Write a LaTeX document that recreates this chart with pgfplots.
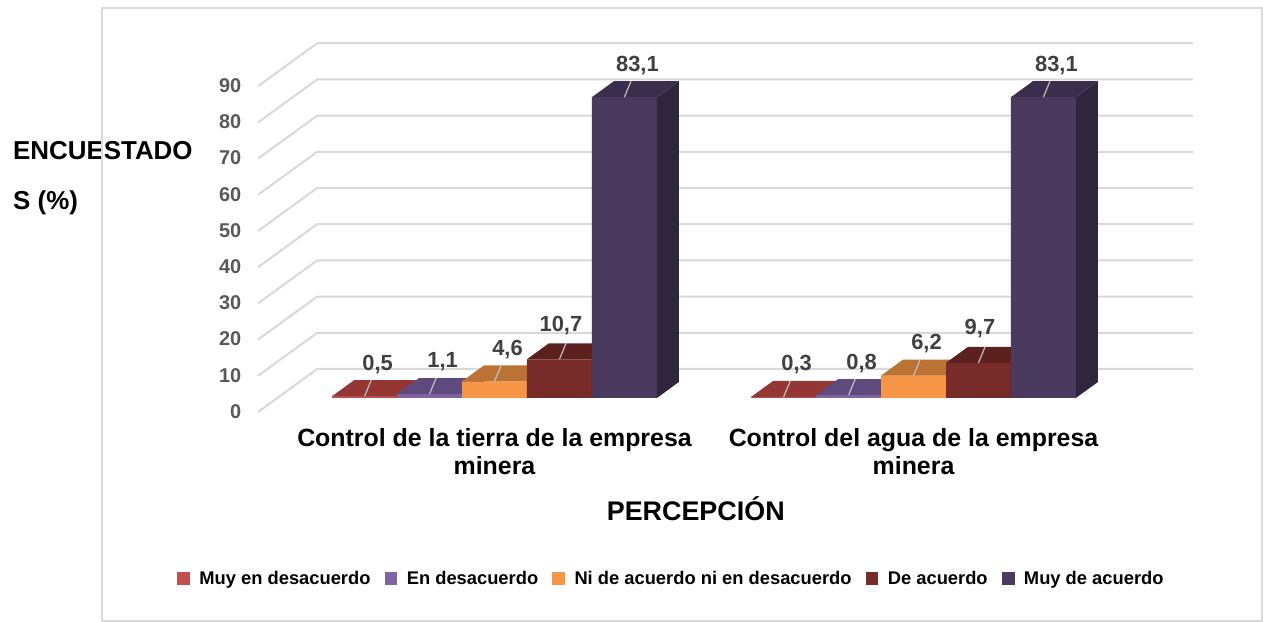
\documentclass[border=0pt]{standalone}
\usepackage{fontspec}
\setmainfont{Liberation Sans}
\usepackage{pgfplots}
\usepackage{pgfplotstable}
\pgfplotsset{compat=1.18}

\definecolor{fA}{HTML}{C0504D}\definecolor{tA}{HTML}{943634}\definecolor{sA}{HTML}{7A2C2A}
\definecolor{fB}{HTML}{8064A2}\definecolor{tB}{HTML}{5F4A7E}\definecolor{sB}{HTML}{4E3D68}
\definecolor{fC}{HTML}{F79646}\definecolor{tC}{HTML}{BA7332}\definecolor{sC}{HTML}{9E6029}
\definecolor{fD}{HTML}{772C2A}\definecolor{tD}{HTML}{5C201F}\definecolor{sD}{HTML}{4C1B1A}
\definecolor{fE}{HTML}{4A3A5E}\definecolor{tE}{HTML}{3B2D4C}\definecolor{sE}{HTML}{2F263D}
\definecolor{gridc}{HTML}{D9D9D9}
\definecolor{lead}{HTML}{BFBFBF}
\definecolor{lbl}{HTML}{404040}
\definecolor{tickc}{HTML}{595959}

\pgfplotstableread{
g    s1   s2   s3   s4    s5
0    0.5  1.1  4.6  10.7  83.1
1    0.3  0.8  6.2  9.7   83.1
}\datatable

\def\bw{0.155}
\def\ddx{0.0525}
\def\ddy{4.42}

% top face, side face and leader line of one bar, from the table value
\newcommand\barfaces[5]{%
  \pgfplotstablegetelem{#2}{#5}\of\datatable \let\val\pgfplotsretval
  \pgfplotstablegetelem{#2}{g}\of\datatable \let\grp\pgfplotsretval
  \pgfmathsetmacro\xm{\grp+(#1-3)*\bw}%
  \pgfmathsetmacro\xa{\xm-\bw/2}%
  \pgfmathsetmacro\xb{\xm+\bw/2}%
  \pgfmathsetmacro\xc{\xa+\ddx}%
  \pgfmathsetmacro\xd{\xb+\ddx}%
  \pgfmathsetmacro\yt{\val+\ddy}%
  \pgfmathsetmacro\xl{\xm+0.3*\ddx}%
  \edef\tmp{%
    \noexpand\addplot[forget plot, draw=none, fill=#4] coordinates {(\xb,0) (\xd,\ddy) (\xd,\yt) (\xb,\val)} -- cycle;
    \noexpand\addplot[forget plot, draw=none, fill=#3] coordinates {(\xa,\val) (\xb,\val) (\xd,\yt) (\xc,\yt)} -- cycle;
    \noexpand\addplot[forget plot, draw=lead, line width=1.2bp] coordinates {(\xm,\val) (\xl,\yt)};
  }\tmp
}

\pgfplotsset{
  frontbar/.style={ybar, bar width=\bw, bar shift=0pt, draw=none,
    nodes near coords={\pgfmathprintnumber[use comma, fixed, fixed zerofill, precision=1]{\pgfplotspointmeta}},
    nodes near coords style={font=\fontsize{22}{24}\selectfont\bfseries, text=lbl, anchor=center, xshift=13bp, yshift=32bp}},
}

\begin{document}
\begin{tikzpicture}
\begin{axis}[
  at={(277.2bp,224bp)}, anchor=south west,
  scale only axis, width=876bp, height=325.8bp,
  xmin=-0.5186, xmax=1.5720, ymin=0, ymax=90,
  clip=false,
  axis line style={draw=none},
  major tick length=0pt,
  /pgf/number format/assume math mode=true,
  ytick={0,10,...,90},
  yticklabel style={font=\fontsize{20}{22}\selectfont\bfseries, text=tickc, xshift=-32.5bp, yshift=-13.5bp},
  xtick={0,1},
  xticklabels={{Control de la tierra de la empresa\\minera},{Control del agua de la empresa\\minera}},
  xticklabel style={font=\fontsize{25}{28}\selectfont\bfseries, align=center, yshift=-27bp},
  xlabel={PERCEPCIÓN},
  xlabel style={font=\fontsize{27}{30}\selectfont\bfseries, at={(axis description cs:0.4778,-0.3766)}, anchor=base, inner sep=0pt},
  ylabel={ENCUESTADO\\S (\%)},
  ylabel style={rotate=-90, font=\fontsize{26}{50}\selectfont\bfseries, align=left, at={(axis description cs:-0.3016,0.7867)}, anchor=north west, inner sep=0pt},
  legend columns=5,
  legend style={at={(axis description cs:-0.1144,-0.554)}, anchor=west, draw=none, fill=none, inner sep=0pt,
    font=\fontsize{18.4}{20}\selectfont\bfseries,
    /tikz/every odd column/.append style={column sep=7.5bp},
    /tikz/every even column/.append style={column sep=12.1bp}},
  legend image code/.code={\path[#1, draw=none] (0bp,-6.3bp) rectangle (12.7bp,6.3bp);},
]
% gridlines: back wall and left side wall
\pgfplotsinvokeforeach{0,10,...,90}{
  \pgfmathsetmacro\yb{#1+8.011}
  \pgfmathsetmacro\yf{#1-3.867}
  \edef\tmp{\noexpand\addplot[forget plot, draw=gridc, line width=2bp] coordinates {(-0.5644,\yf) (-0.4231,\yb) (1.6675,\yb)};}\tmp
}

\addplot[frontbar, fill=fA] table[x expr=\thisrow{g}-2*\bw, y=s1]{\datatable};
\addlegendentry{Muy en desacuerdo}
\barfaces{1}{0}{tA}{sA}{s1}\barfaces{1}{1}{tA}{sA}{s1}

\addplot[frontbar, fill=fB] table[x expr=\thisrow{g}-\bw, y=s2]{\datatable};
\addlegendentry{En desacuerdo}
\barfaces{2}{0}{tB}{sB}{s2}\barfaces{2}{1}{tB}{sB}{s2}

\addplot[frontbar, fill=fC] table[x expr=\thisrow{g}, y=s3]{\datatable};
\addlegendentry{Ni de acuerdo ni en desacuerdo}
\barfaces{3}{0}{tC}{sC}{s3}\barfaces{3}{1}{tC}{sC}{s3}

\addplot[frontbar, fill=fD, nodes near coords style={xshift=-11.5bp, yshift=2bp}] table[x expr=\thisrow{g}+\bw, y=s4]{\datatable};
\addlegendentry{De acuerdo}
\barfaces{4}{0}{tD}{sD}{s4}\barfaces{4}{1}{tD}{sD}{s4}

\addplot[frontbar, fill=fE] table[x expr=\thisrow{g}+2*\bw, y=s5]{\datatable};
\addlegendentry{Muy de acuerdo}
\barfaces{5}{0}{tE}{sE}{s5}\barfaces{5}{1}{tE}{sE}{s5}
\end{axis}
\draw[gridc, line width=1.5bp] (102bp,1bp) rectangle (1262bp,614bp);
\pgfresetboundingbox
\path[use as bounding box] (0bp,0bp) rectangle (1263bp,622bp);
\end{tikzpicture}
\end{document}
